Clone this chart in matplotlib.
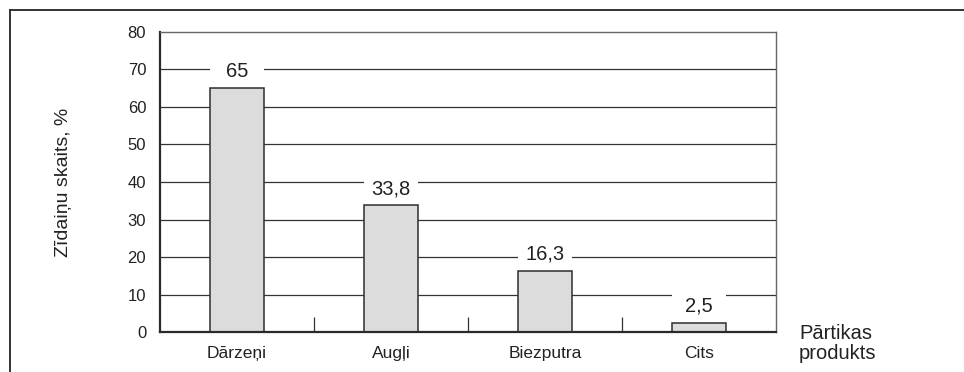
import numpy as np
import matplotlib.pyplot as plt
from matplotlib.lines import Line2D

plt.rcParams['font.family'] = ['Liberation Sans', 'DejaVu Sans']

categories = ["Dārzeņi", "Augļi", "Biezputra", "Cits"]
values = [65, 33.8, 16.3, 2.5]
value_labels = ["65", "33,8", "16,3", "2,5"]
yticks = [0, 10, 20, 30, 40, 50, 60, 70, 80]

fig = plt.figure(figsize=(9.64, 3.72), dpi=100)
ax = fig.add_axes([0.166, 0.1075, 0.639, 0.8065])

x = np.arange(len(categories)) + 0.5
width = 0.345

# horizontal grid
for y in yticks[1:-1]:
    ax.axhline(y, color="#333333", lw=0.9, zorder=0.5)

# white strip above each bar keeps the grid clear around the value label
ax.bar(x, 8, bottom=values, width=width, color="white", zorder=1.5)
ax.bar(x, values, width=width, color="#dcdcdc", edgecolor="#2e2e2e",
       linewidth=1.1, zorder=2)

for xi, v, lab in zip(x, values, value_labels):
    ax.annotate(lab, (xi, v), xytext=(0, 8), textcoords="offset points",
                ha="center", va="baseline", fontsize=14.5, color="#222222",
                zorder=3)

ax.set_xlim(0, len(categories))
ax.set_ylim(0, 80)
ax.set_yticks(yticks)
ax.tick_params(axis="y", length=0, labelsize=12, pad=10, labelcolor="#222222")
ax.set_xticks(x)
ax.set_xticklabels(categories)
ax.tick_params(axis="x", length=0, labelsize=12.5, pad=10, labelcolor="#222222")
ax.set_xticks(np.arange(1, len(categories)), minor=True)
ax.tick_params(axis="x", which="minor", direction="in", length=10.5,
               width=0.9, color="#333333")

for side in ["left", "bottom"]:
    ax.spines[side].set_linewidth(1.6)
    ax.spines[side].set_color("#2a2a2a")
for side in ["top", "right"]:
    ax.spines[side].set_linewidth(1.0)
    ax.spines[side].set_color("#666666")

fig.text(0.066, 0.51, "Zīdaiņu skaits, %", rotation=90, ha="center",
         va="center", fontsize=14, color="#222222")
fig.text(0.829, 0.077, "Pārtikas\nprodukts", ha="left", va="center",
         fontsize=14.5, color="#222222", linespacing=1.1)

# outer frame: top and left edge
fig.add_artist(Line2D([0.0104, 1.0], [0.973, 0.973], transform=fig.transFigure,
                      color="#333333", lw=1.4))
fig.add_artist(Line2D([0.0104, 0.0104], [0.0, 0.973], transform=fig.transFigure,
                      color="#333333", lw=1.4))

fig.savefig("out.png", dpi=100)
